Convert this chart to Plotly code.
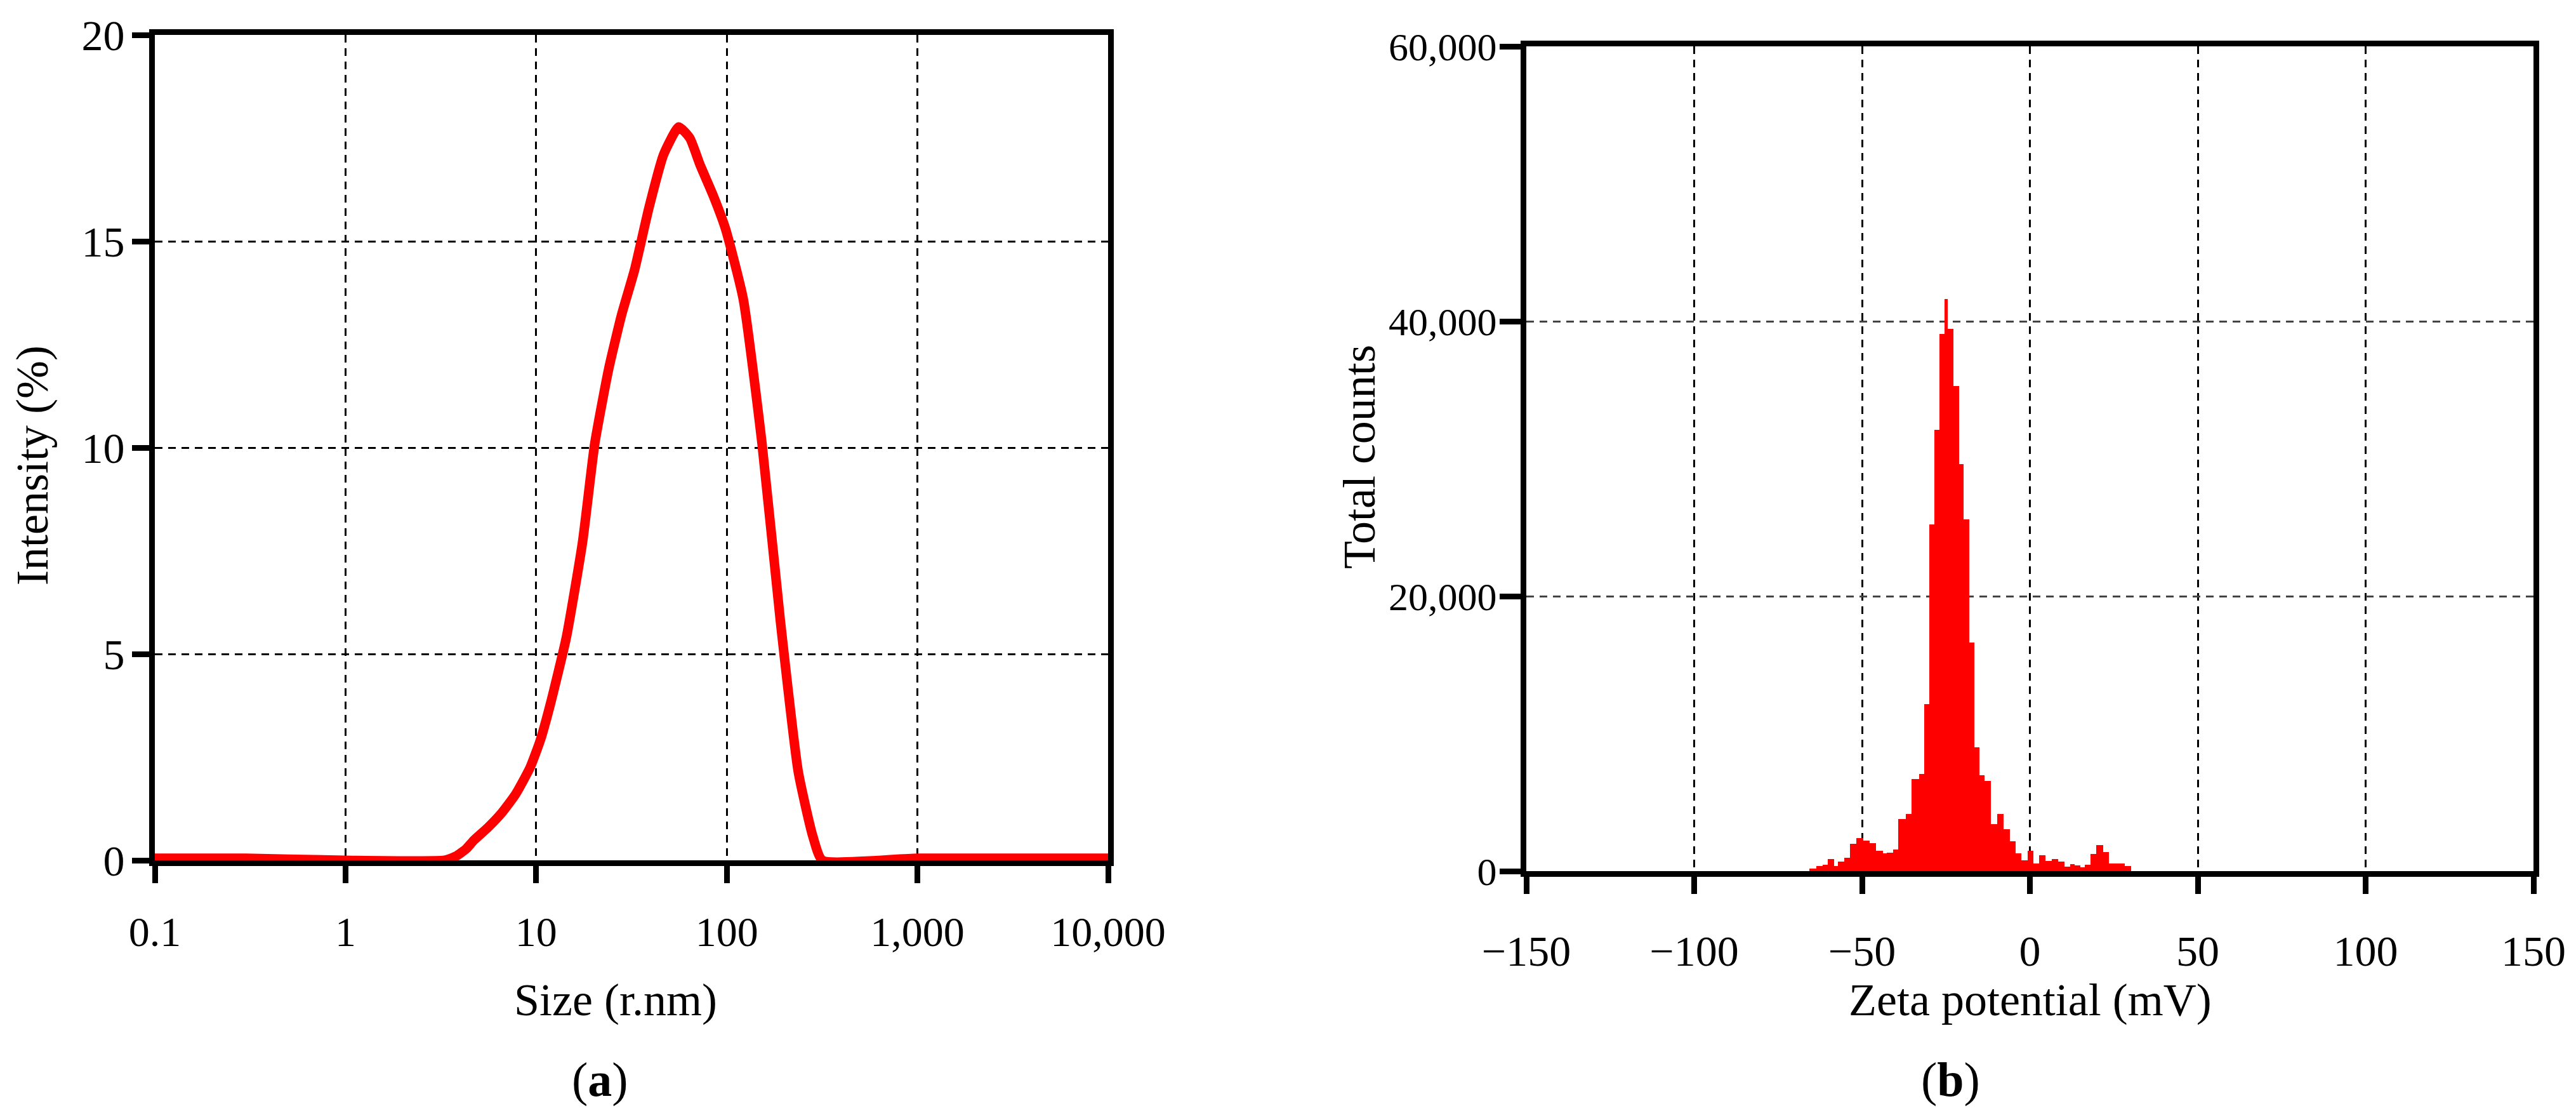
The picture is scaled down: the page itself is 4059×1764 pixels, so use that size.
import plotly.graph_objects as go

# (a) size distribution by intensity
size_nm = [0.1, 0.3, 1, 3.3, 3.8, 4.3, 4.7, 5.6, 6.6, 7.8, 9.3, 10.5, 11.9, 14.4, 17.5, 20.3, 24, 28,
           32.8, 39, 46.6, 56, 64, 72.3, 85, 98.5, 122, 153, 191, 237, 282, 317, 1000, 10000]
intensity_pct = [0.05, 0.05, 0, 0, 0.1, 0.28, 0.48, 0.8, 1.15, 1.6, 2.25, 2.9, 3.8, 5.4, 7.7, 10.1, 11.9, 13.2,
                 14.3, 15.8, 17.1, 17.77, 17.5, 16.86, 16.1, 15.3, 13.6, 10.1, 5.8, 2.15, 0.6, 0, 0.05, 0.05]
size_ticks = [0.1, 1, 10, 100, 1000, 10000]
size_ticktext = ["0.1", "1", "10", "100", "1,000", "10,000"]
intensity_ticks = [0, 5, 10, 15, 20]

# (b) zeta potential histogram: bin edges (mV) and counts per bin
zeta_edges = [-65.6, -63.7, -61.8, -60.3, -58.4, -57.2, -55.3, -53.6, -51.7, -49.6, -47.7, -45.9,
              -43.8, -42.6, -40.8, -39.3, -37.0, -35.2, -33.0, -31.4, -30.0, -28.4, -26.9, -25.4,
              -24.4, -22.8, -21.1, -19.75, -18.0, -16.6, -15.0, -13.6, -11.6, -9.8, -7.9, -5.9,
              -4.25, -2.55, -0.66, 1.04, 2.68, 4.57, 6.58, 8.47, 10.36, 11.94, 13.4, 15.1, 16.35,
              18.05, 19.7, 21.8, 23.6, 26.1, 28.3, 30.2]
zeta_counts = [200, 370, 480, 870, 390, 670, 970, 1970, 2390, 2230, 2050, 1500,
               1310, 1355, 1550, 3770, 4170, 6710, 7070, 12130, 25220, 32100, 39080, 41600,
               39430, 35280, 29620, 25600, 16640, 8990, 6975, 6560, 3440, 4170, 3050, 2170,
               1280, 785, 1480, 555, 1140, 740, 865, 680, 320, 520, 400, 277,
               475, 1250, 1895, 1400, 555, 555, 370]
zeta_ticks = [-150, -100, -50, 0, 50, 100, 150]
zeta_ticktext = ["\u2212150", "\u2212100", "\u221250", "0", "50", "100", "150"]
count_ticks = [0, 20000, 40000, 60000]
count_ticktext = ["0", "20,000", "40,000", "60,000"]

W, H = 4059, 1764
OFF = 8  # page body margin
FONT = "Liberation Serif"


def px(v):
    return (v - OFF) / W


def py(v):
    return 1 - (v - OFF) / H


bin_mid = [(a + b) / 2 for a, b in zip(zeta_edges[:-1], zeta_edges[1:])]
bin_w = [b - a for a, b in zip(zeta_edges[:-1], zeta_edges[1:])]

fig = go.Figure()

fig.add_trace(go.Scatter(
    x=size_nm, y=intensity_pct, mode="lines",
    line=dict(color="#ff0000", width=15, shape="spline", smoothing=0.5),
    cliponaxis=False, xaxis="x", yaxis="y", showlegend=False
))

fig.add_trace(go.Bar(
    x=bin_mid, y=zeta_counts, width=bin_w,
    marker=dict(color="#ff0000", line=dict(width=0)),
    xaxis="x2", yaxis="y2", showlegend=False
))

axis_common = dict(
    showline=True, linecolor="black", linewidth=9, mirror=True,
    ticks="outside", tickcolor="black", tickwidth=9, ticklen=27,
    showgrid=True, gridcolor="black", gridwidth=3, griddash="12px,9px",
    zeroline=False, automargin=False,
)

fig.update_layout(
    width=W, height=H,
    margin=dict(l=0, r=0, t=0, b=0, pad=0, autoexpand=False),
    paper_bgcolor="white", plot_bgcolor="white",
    bargap=0,
    xaxis=dict(axis_common, type="log", range=[-1, 4], domain=[px(244), px(1746)],
               tickvals=size_ticks, ticktext=size_ticktext, anchor="y",
               tickfont=dict(family=FONT, size=66, color="black"),
               ticklabelstandoff=20, layer="below traces"),
    yaxis=dict(axis_common, range=[0, 20], domain=[py(1355), py(55)],
               tickvals=intensity_ticks, anchor="x",
               tickfont=dict(family=FONT, size=68, color="black"),
               ticklabelstandoff=-2, layer="below traces"),
    xaxis2=dict(axis_common, range=[-150, 150], domain=[px(2405), px(3992)],
                tickvals=zeta_ticks, ticktext=zeta_ticktext, anchor="y2",
                tickfont=dict(family=FONT, size=68, color="black"),
                ticklabelstandoff=31),
    yaxis2=dict(axis_common, range=[0, 60000], domain=[py(1372), py(73)],
                tickvals=count_ticks, ticktext=count_ticktext, anchor="x2",
                gridcolor="#444", ticklen=33,
                tickfont=dict(family=FONT, size=62, color="black"),
                ticklabelstandoff=-8),
)

title_font = dict(family=FONT, size=72, color="black")
label_font = dict(family=FONT, size=76, color="black")
notes = [
    ("Intensity (%)", 51, 733, -90, title_font),
    ("Size (r.nm)", 970, 1575, 0, title_font),
    ("Total counts", 2142, 720, -90, title_font),
    ("Zeta potential (mV)", 3199, 1575, 0, title_font),
    ("(<b>a</b>)", 945, 1700, 0, label_font),
    ("(<b>b</b>)", 3073, 1700, 0, label_font),
]
for text, x, y, angle, font in notes:
    fig.add_annotation(text=text, x=px(x), y=py(y), xref="paper", yref="paper",
                       xanchor="center", yanchor="middle", textangle=angle,
                       showarrow=False, font=font)

fig.write_html("out.html")
